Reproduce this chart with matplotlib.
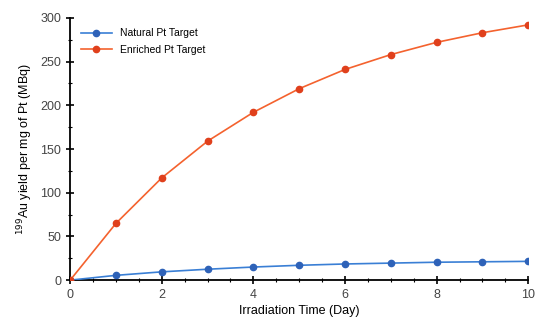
import numpy as np
import matplotlib
matplotlib.use('Agg')
import matplotlib.pyplot as plt
from matplotlib.ticker import MultipleLocator

# Irradiation time (day) and 199Au yield per mg of Pt (MBq)
days = [0, 1, 2, 3, 4, 5, 6, 7, 8, 9, 10]
natural = [0, 5.5, 9.5, 12.5, 15, 17, 18.5, 19.5, 20.5, 21, 21.5]
enriched = [0, 65, 117, 159, 192, 219, 241, 258, 272, 283, 292]

plt.rcParams['font.family'] = ['Liberation Sans', 'DejaVu Sans']

fig = plt.figure(figsize=(5.44, 3.25), dpi=100)
ax = fig.add_axes([0.129, 0.138, 0.842, 0.807])

ax.plot(days, natural, color='#3a7fd5', linewidth=1.2, marker='o', markersize=4.5,
        markerfacecolor='#2e62b8', markeredgecolor='#2e62b8', label='Natural Pt Target', zorder=3)
ax.plot(days, enriched, color='#f4622e', linewidth=1.2, marker='o', markersize=4.5,
        markerfacecolor='#e0401c', markeredgecolor='#e0401c', label='Enriched Pt Target', zorder=3)

ax.set_xlim(0, 10)
ax.set_ylim(0, 300)
ax.xaxis.set_major_locator(MultipleLocator(2))
ax.xaxis.set_minor_locator(MultipleLocator(0.5))
ax.yaxis.set_major_locator(MultipleLocator(50))
ax.yaxis.set_minor_locator(MultipleLocator(25))
ax.tick_params(which='major', direction='inout', length=6, width=1.2, labelsize=9, colors='black')
ax.tick_params(which='minor', direction='inout', length=3, width=0.8)
ax.spines['top'].set_visible(False)
ax.spines['right'].set_visible(False)
ax.spines['left'].set_linewidth(1.3)
ax.spines['bottom'].set_linewidth(1.3)
for lbl in ax.get_xticklabels() + ax.get_yticklabels():
    lbl.set_color('#444444')

ax.set_xlabel('Irradiation Time (Day)', fontsize=9, labelpad=3)
ax.set_ylabel('$^{199}$Au yield per mg of Pt (MBq)', fontsize=9, labelpad=4)

ax.legend(loc='upper left', bbox_to_anchor=(0.0, 1.0), frameon=False, fontsize=7.5,
          handlelength=3, borderaxespad=0.6, labelspacing=0.6)

fig.savefig('out.png', dpi=100)
